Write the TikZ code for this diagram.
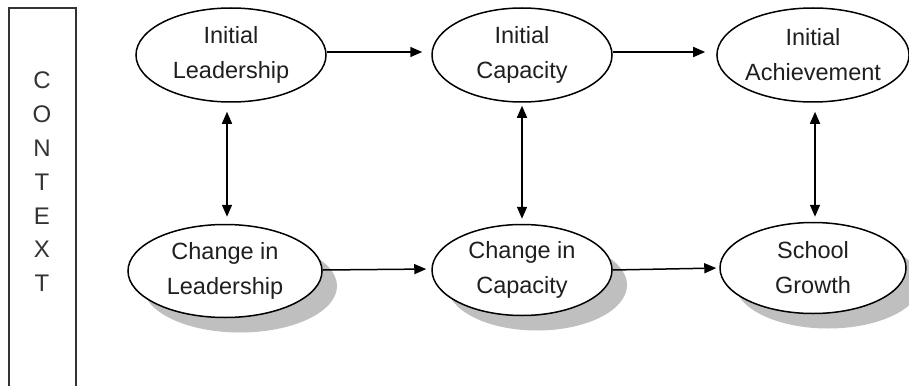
\documentclass[tikz,border=0pt]{standalone}
\usepackage{fontspec}
\setmainfont{Liberation Sans}
\usetikzlibrary{shapes.geometric,arrows.meta,shadows}
\begin{document}
\begin{tikzpicture}[x=1pt,y=-1pt,
  oval/.style={ellipse,draw,line width=1.5pt,fill=white,inner sep=0pt,
    minimum width=190pt,minimum height=94pt,align=center,text=black!88,
    font=\fontsize{23.5pt}{35pt}\selectfont},
  shadowed/.style={oval,drop shadow={shadow xshift=15pt,shadow yshift=-15pt,
    fill=black!25,opacity=1}},
  link/.style={line width=1.5pt,-{Triangle[length=12pt,width=10pt]}},
  dbl/.style={line width=1.5pt,{Triangle[length=12pt,width=10pt]}-{Triangle[length=12pt,width=10pt]}}]
\useasboundingbox (0,0) rectangle (909,385);
\fill[white] (0,0) rectangle (909,385);

% context column
\draw[line width=1.5pt,black!80] (9,400) -- (9,8) -- (76,8) -- (76,400);
\node[font=\fontsize{24pt}{33.8pt}\selectfont,align=center,inner sep=0pt,text=black!80] (ctx) at (42,182)
  {C\\O\\N\\T\\E\\X\\T};

% upper row
\node[oval] (il) at (231,55) {Initial\\Leadership};
\node[oval,minimum width=180pt] (ic) at (522,55) {Initial\\Capacity};
\node[oval,minimum width=188pt] (ia) at (813,55) {Initial\\Achievement};

% lower row
\node[shadowed,minimum width=194pt,minimum height=93pt] (cl) at (225,271) {Change in\\Leadership};
\node[shadowed,minimum width=180pt,minimum height=91pt] (cc) at (522,270) {Change in\\Capacity};
\node[shadowed,minimum width=186pt,minimum height=91pt] (sg) at (813,268) {School\\Growth};

% connectors
\draw[link,shorten >=9pt] ([yshift=3pt]il.east) -- ([yshift=3pt]ic.west);
\draw[link,shorten >=11pt] ([yshift=3pt]ic.east) -- ([yshift=3pt]ia.west);
\draw[link,shorten >=5pt] ([yshift=1pt]cl.east) -- ([yshift=1pt]cc.west);
\draw[link,shorten >=3pt] (cc.east) -- (sg.west);

\draw[dbl,shorten <=9pt,shorten >=7pt] ([xshift=-4pt]il.south) -- ([xshift=2pt]cl.north);
\draw[dbl,shorten <=3pt,shorten >=5pt] (ic.south) -- (cc.north);
\draw[dbl,shorten <=9pt,shorten >=5pt] ([xshift=2pt]ia.south) -- ([xshift=2pt]sg.north);
\end{tikzpicture}
\end{document}
